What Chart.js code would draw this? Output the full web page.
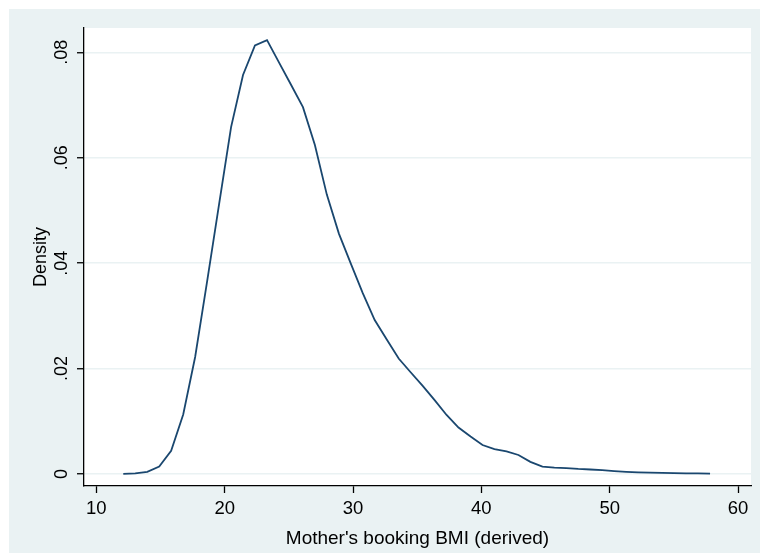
<!DOCTYPE html>
<html>
<head>
<meta charset="utf-8">
<title>Density of mother's booking BMI</title>
<script src="https://cdn.jsdelivr.net/npm/chart.js@4.4.1/dist/chart.umd.min.js"></script>
<style>
  html, body { margin: 0; padding: 0; background: #fff; }
  canvas { display: block; }
</style>
</head>
<body>
<canvas id="density-chart" width="760" height="553"></canvas>
<script>
  // kernel density estimate (50 evaluation points)
  const bmi = [
    12.10, 13.03, 13.97, 14.90, 15.83, 16.77, 17.70, 18.63, 19.56, 20.50,
    21.43, 22.36, 23.30, 24.23, 25.16, 26.10, 27.03, 27.96, 28.90, 29.83,
    30.76, 31.69, 32.63, 33.56, 34.49, 35.43, 36.36, 37.29, 38.22, 39.16,
    40.09, 41.02, 41.96, 42.89, 43.82, 44.76, 45.69, 46.62, 47.55, 48.49,
    49.42, 50.35, 51.29, 52.22, 53.15, 54.09, 55.02, 55.95, 56.88, 57.82
  ];
  const density = [
    0.00002, 0.0001, 0.0004, 0.0014, 0.0044, 0.0113, 0.0222, 0.0365, 0.0511, 0.0658,
    0.0757, 0.0813, 0.0823, 0.0781, 0.0739, 0.0696, 0.0624, 0.0530, 0.0456, 0.0399,
    0.0343, 0.0292, 0.0255, 0.0219, 0.0193, 0.0167, 0.0140, 0.0112, 0.0088, 0.0071,
    0.0055, 0.0047, 0.0043, 0.0036, 0.0023, 0.0014, 0.0012, 0.0011, 0.00095, 0.00085,
    0.00072, 0.00055, 0.0004, 0.0003, 0.00025, 0.0002, 0.00015, 0.00013, 0.0001, 0.00006
  ];
  const xTicks = [10, 20, 30, 40, 50, 60];
  const yTicks = [0, 0.02, 0.04, 0.06, 0.08];
  const yTickLabels = ['0', '.02', '.04', '.06', '.08'];

  const FONT = '"Liberation Sans", Arial, sans-serif';
  const BG = '#EAF2F3';

  const background = {
    id: 'background',
    beforeDraw(chart) {
      const { ctx, chartArea: a, width, height } = chart;
      ctx.save();
      ctx.fillStyle = '#fff';
      ctx.fillRect(0, 0, width, height);
      ctx.fillStyle = BG;
      ctx.fillRect(9, 9, width - 9, height - 9);
      ctx.fillStyle = '#fff';
      ctx.fillRect(a.left, a.top, a.right - a.left, a.bottom - a.top);
      ctx.restore();
    }
  };

  // Stata writes the y labels turned on their side
  const yLabels = {
    id: 'yLabels',
    afterDraw(chart) {
      const ctx = chart.ctx;
      const s = chart.scales.y;
      ctx.save();
      ctx.font = '18px ' + FONT;
      ctx.fillStyle = '#000';
      ctx.textAlign = 'center';
      ctx.textBaseline = 'middle';
      yTicks.forEach((v, i) => {
        ctx.save();
        ctx.translate(62, s.getPixelForValue(v));
        ctx.rotate(-Math.PI / 2);
        ctx.fillText(yTickLabels[i], 0, 0);
        ctx.restore();
      });
      ctx.restore();
    }
  };

  const ctx = document.getElementById('density-chart').getContext('2d');
  new Chart(ctx, {
    type: 'line',
    data: {
      datasets: [{
        data: bmi.map((x, i) => ({ x: x, y: density[i] })),
        borderColor: '#1A476F',
        borderWidth: 1.8,
        pointRadius: 0,
        tension: 0,
        fill: false
      }]
    },
    options: {
      responsive: false,
      animation: false,
      devicePixelRatio: 1,
      layout: { padding: { top: 28, right: 9, left: 0, bottom: 0 } },
      plugins: {
        legend: { display: false },
        tooltip: { enabled: false }
      },
      scales: {
        x: {
          type: 'linear',
          min: 9.04,
          max: 61.01,
          afterBuildTicks: (s) => { s.ticks = xTicks.map(v => ({ value: v })); },
          afterFit: (s) => { s.height = 67; },
          ticks: {
            color: '#000',
            padding: 5,
            maxRotation: 0,
            font: { family: FONT, size: 18.5 },
            callback: (v) => String(v)
          },
          grid: {
            drawOnChartArea: false,
            drawTicks: true,
            tickLength: 7,
            tickColor: '#000',
            tickWidth: 1.3
          },
          border: { display: true, color: '#000', width: 1.3 },
          title: {
            display: true,
            text: "Mother's booking BMI (derived)",
            color: '#000',
            font: { family: FONT, size: 19 },
            padding: { top: 0, bottom: 3 }
          }
        },
        y: {
          type: 'linear',
          min: -0.00228,
          max: 0.08461,
          afterBuildTicks: (s) => { s.ticks = yTicks.map(v => ({ value: v })); },
          afterFit: (s) => { s.width = 84; },
          ticks: { display: false },
          grid: {
            color: BG,
            lineWidth: 1.5,
            drawTicks: true,
            tickLength: 7,
            tickColor: '#000',
            tickWidth: 1.3
          },
          border: { display: true, color: '#000', width: 1.3 },
          title: {
            display: true,
            text: 'Density',
            color: '#000',
            font: { family: FONT, size: 18 },
            padding: { top: 30, bottom: 0 }
          }
        }
      }
    },
    plugins: [background, yLabels]
  });
</script>
</body>
</html>
